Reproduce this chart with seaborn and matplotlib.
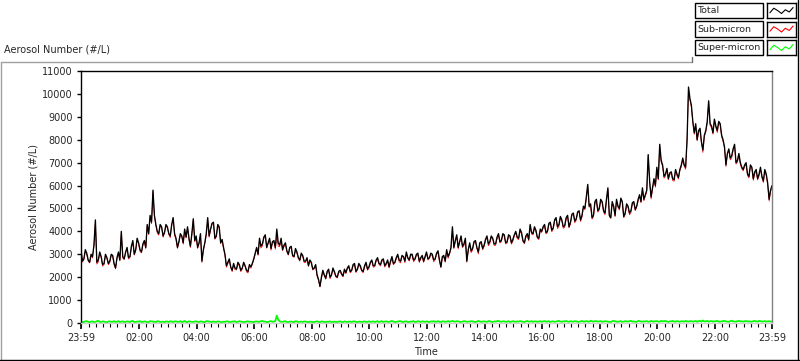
import numpy as np
import pandas as pd
import matplotlib
matplotlib.use("Agg")
import matplotlib.pyplot as plt
from matplotlib.lines import Line2D
from matplotlib.ticker import FixedLocator
import seaborn as sns

# ---------------------------------------------------------------------------
# Data. Samples every 6 min from 23:59 ("total"),
# plus the in-between samples 3 min later ("total_mid").
# ---------------------------------------------------------------------------

total = [
    3200, 2800, 3050, 2650, 2900, 4500, 2750, 2900, 2600, 2850,
    2700, 2950, 2400, 3100, 4000, 2800, 3300, 2900, 3600, 3200,
    3500, 3100, 3600, 4300, 4700, 5800, 4300, 3900, 4200, 3950,
    4200, 3800, 4600, 3700, 3550, 3800, 4100, 4200, 3350, 4550,
    3800, 3500, 2700, 3500, 4600, 4100, 4400, 3800, 4200, 3650,
    3000, 2650, 2450, 2600, 2350, 2550, 2400, 2500, 2250, 2450,
    2800, 3300, 3700, 3450, 3850, 3500, 3250, 3600, 4100, 3400,
    3200, 3500, 3000, 3350, 2900, 3100, 2750, 2950, 2700, 2500,
    2650, 2400, 2100, 1600, 2300, 1950, 2350, 2100, 2250, 2000,
    2300, 2050, 2200, 2500, 2300, 2600, 2350, 2500, 2250, 2650,
    2450, 2750, 2500, 2850, 2550, 2800, 2600, 2450, 2900, 2650,
    3000, 2700, 2900, 3100, 2750, 3000, 2800, 3050, 2850, 2700,
    3100, 2850, 3000, 2800, 3150, 2450, 2950, 3200, 3050, 4200,
    3600, 3300, 3800, 3450, 2700, 3500, 3250, 3600, 3100, 3550,
    3400, 3800, 3550, 3700, 3450, 3900, 3600, 3850, 3550, 3800,
    3650, 4000, 3700, 3950, 3500, 3900, 4300, 3900, 4050, 3700,
    4000, 4300, 4000, 4400, 4150, 4600, 4300, 4500, 4250, 4700,
    4400, 4800, 4550, 4900, 4700, 5000, 6050, 5200, 4700, 5400,
    5000, 5300, 4800, 5900, 4600, 5100, 5400, 5000, 5300, 4800,
    5100, 4900, 5300, 5100, 5600, 5900, 5600, 7350, 5500, 6300,
    6800, 7800, 6900, 6500, 6300, 6600, 6250, 6500, 6700, 7200,
    6800, 10300, 9500, 8300, 8000, 8500, 7550, 8400, 9700, 8600,
    8900, 8400, 8700, 8000, 6900, 7600, 7300, 7800, 7100, 7000,
    6700, 7000, 6400, 6800, 6600, 6300, 6800, 6200, 6500, 5400,
    6000,
]

total_mid = [
    2700, 3200, 2750, 3000, 3400, 2650, 3100, 2550, 3000, 2600,
    3000, 2600, 2850, 2750, 2900, 3100, 2850, 3350, 3000, 3700,
    3200, 3450, 3300, 3900, 4400, 4700, 4000, 4300, 3800, 4300,
    3900, 4300, 3900, 3300, 3900, 3500, 3750, 3700, 3900, 3600,
    3300, 3900, 3200, 3900, 3800, 4350, 3700, 4300, 3500, 3300,
    2500, 2800, 2300, 2400, 2650, 2300, 2650, 2300, 2550, 2600,
    3050, 3000, 3350, 3750, 3300, 3700, 3550, 3300, 3500, 3700,
    3400, 3150, 3300, 2950, 3250, 2850, 3050, 2700, 2850, 2750,
    2350, 2550, 1900, 2000, 2100, 2250, 2000, 2400, 2050, 2250,
    2150, 2350, 2400, 2250, 2550, 2250, 2600, 2300, 2500, 2350,
    2650, 2500, 2750, 2600, 2750, 2500, 2750, 2700, 2600, 2850,
    2750, 2950, 2700, 2850, 3000, 2750, 3000, 2700, 2950, 2900,
    2800, 3050, 2750, 3050, 2750, 2900, 2700, 2900, 3300, 3300,
    3850, 3550, 3350, 3700, 3200, 3150, 3550, 3300, 3500, 3250,
    3650, 3450, 3800, 3450, 3750, 3550, 3900, 3500, 3850, 3500,
    3850, 3750, 4100, 3600, 3800, 3650, 3950, 4200, 3750, 4100,
    4200, 3950, 4350, 4050, 4500, 4200, 4650, 4200, 4600, 4200,
    4750, 4450, 4850, 4500, 5100, 5500, 5100, 4600, 5300, 4900,
    5400, 4900, 5400, 4700, 5300, 4700, 5100, 5450, 4650, 5200,
    4800, 5250, 4950, 5400, 5300, 5400, 5800, 6200, 5900, 6000,
    6300, 7100, 6400, 6750, 6550, 6300, 6700, 6350, 6900, 6900,
    8000, 9800, 8800, 8700, 8400, 7900, 8200, 8800, 8700, 8300,
    8600, 8800, 8200, 7700, 7400, 7200, 7600, 7000, 7400, 6800,
    6900, 6500, 6900, 6300, 6700, 6500, 6400, 6700, 6100, 5800,
]

super_micron = [
    60, 40, 80, 30, 70, 50, 90, 40, 60, 30,
    70, 50, 40, 80, 60, 30, 70, 40, 90, 50,
    60, 40, 70, 30, 80, 60, 40, 70, 50, 30,
    60, 80, 40, 70, 50, 30, 90, 40, 60, 50,
    70, 40, 60, 30, 80, 50, 70, 40, 60, 30,
    50, 70, 40, 60, 30, 80, 50, 40, 70, 60,
    40, 70, 50, 90, 60, 40, 80, 60, 320, 70,
    50, 80, 40, 60, 30, 70, 50, 40, 60, 30,
    50, 40, 70, 30, 60, 40, 50, 30, 60, 40,
    70, 30, 50, 60, 40, 70, 30, 50, 60, 40,
    70, 50, 40, 80, 60, 40, 70, 50, 90, 40,
    60, 80, 40, 70, 50, 60, 40, 80, 50, 60,
    70, 40, 60, 50, 80, 40, 70, 60, 50, 90,
    60, 70, 40, 80, 50, 60, 70, 40, 90, 50,
    70, 50, 80, 40, 60, 90, 50, 70, 60, 40,
    80, 50, 60, 70, 40, 90, 60, 50, 70, 60,
    50, 80, 60, 40, 70, 60, 90, 50, 70, 60,
    80, 60, 70, 50, 90, 60, 70, 100, 60, 80,
    70, 50, 80, 60, 40, 90, 60, 70, 50, 80,
    60, 90, 70, 50, 80, 60, 70, 50, 90, 60,
    80, 60, 70, 90, 50, 70, 60, 80, 50, 70,
    90, 60, 80, 70, 50, 90, 110, 70, 60, 80,
    70, 90, 60, 80, 70, 50, 100, 60, 80, 70,
    60, 80, 70, 50, 90, 60, 80, 70, 60, 80,
    70,
]

super_micron_mid = [
    40, 70, 50, 60, 30, 80, 50, 70, 40, 60,
    50, 80, 60, 40, 70, 50, 60, 80, 40, 60,
    80, 50, 60, 40, 70, 50, 80, 40, 60, 70,
    40, 60, 70, 50, 80, 60, 40, 70, 50, 60,
    50, 70, 40, 80, 60, 40, 50, 70, 40, 60,
    70, 40, 60, 80, 50, 60, 40, 70, 50, 40,
    60, 50, 80, 60, 40, 70, 50, 90, 150, 50,
    70, 40, 60, 50, 80, 40, 60, 70, 50, 60,
    40, 60, 50, 70, 40, 60, 70, 50, 40, 60,
    50, 70, 40, 60, 70, 50, 60, 40, 70, 50,
    50, 70, 60, 40, 80, 60, 50, 70, 60, 50,
    80, 50, 70, 40, 60, 80, 50, 60, 70, 50,
    50, 70, 80, 60, 50, 70, 50, 80, 70, 60,
    80, 50, 60, 70, 60, 80, 50, 60, 70, 60,
    60, 80, 50, 70, 80, 60, 70, 50, 80, 60,
    60, 70, 80, 50, 70, 60, 80, 70, 50, 80,
    70, 60, 80, 70, 50, 80, 60, 70, 90, 50,
    60, 80, 50, 70, 60, 80, 50, 70, 80, 60,
    80, 60, 70, 50, 80, 70, 50, 80, 60, 70,
    80, 60, 50, 90, 60, 70, 80, 60, 70, 80,
    60, 90, 80, 60, 70, 90, 60, 70, 80, 60,
    70, 80, 60, 90, 80, 60, 70, 90, 80, 60,
    80, 60, 70, 90, 60, 80, 70, 60, 90, 70,
    80, 70, 60, 80, 70, 90, 60, 80, 70, 60,
]

series_names = ["Total", "Sub-micron", "Super-micron"]
series_colors = {"Total": "#000000", "Sub-micron": "#ff0000",
                 "Super-micron": "#00ff00"}

tick_labels = ["23:59", "02:00", "04:00", "06:00", "08:00", "10:00",
               "12:00", "14:00", "16:00", "18:00", "20:00", "22:00", "23:59"]
major_minutes = [0, 121, 241, 361, 481, 601, 721, 841, 961, 1081,
                 1201, 1321, 1440]
y_ticks = list(range(0, 11001, 1000))

# small zig-zag drawn in the legend swatches
glyph = [0.35, 0.65, 0.5, 0.3, 0.55, 0.4, 0.7]

# ---------------------------------------------------------------------------
# Assemble one long table
# ---------------------------------------------------------------------------

grid = pd.DataFrame({"minute": np.arange(0, 1441, 6),
                     "Total": total, "Super-micron": super_micron})
mids = pd.DataFrame({"minute": np.arange(3, 1440, 6),
                     "Total": total_mid, "Super-micron": super_micron_mid})
df = pd.concat([grid, mids]).sort_values("minute").reset_index(drop=True)
df["Sub-micron"] = df["Total"] - df["Super-micron"]
long = df.melt(id_vars="minute", var_name="series", value_name="value")

# ---------------------------------------------------------------------------
# Figure
# ---------------------------------------------------------------------------

sns.set_style("white")
plt.rcParams["font.family"] = ["DejaVu Sans"]
FS = 7

W, H = 800, 361
fig = plt.figure(figsize=(W / 100, H / 100), dpi=100)
ax = fig.add_axes([81 / W, 1 - 323 / H, 691 / W, 252 / H])

line_w = {"Super-micron": 1.3, "Sub-micron": 0.5, "Total": 0.95}
for name in ["Super-micron", "Sub-micron", "Total"]:
    sns.lineplot(data=long[long["series"] == name], x="minute", y="value",
                 ax=ax, color=series_colors[name], linewidth=line_w[name],
                 legend=False)

ax.set_xlim(0, 1440)
ax.set_ylim(0, 11000)
ax.set_xlabel("")
ax.set_ylabel("")

ax.set_yticks(y_ticks)
ax.set_yticklabels([str(v) for v in y_ticks], fontsize=FS)
ax.set_xticks(major_minutes)
ax.set_xticklabels(tick_labels, fontsize=FS)
ax.xaxis.set_minor_locator(FixedLocator(list(range(1, 1440, 15))))
ax.tick_params(axis="y", direction="out", length=3, width=1, pad=3,
               left=True, color="black")
ax.tick_params(axis="x", which="major", direction="out", length=4, width=1.2,
               pad=3, bottom=True, color="black")
ax.tick_params(axis="x", which="minor", direction="out", length=3, width=0.8,
               bottom=True, color="black")

for side, col in [("left", "black"), ("top", "black"),
                  ("right", "#808080"), ("bottom", "#d0d0d0")]:
    ax.spines[side].set_visible(True)
    ax.spines[side].set_color(col)
    ax.spines[side].set_linewidth(1)

fig.text(33 / W, 1 - 197 / H, "Aerosol Number (#/L)", rotation=90,
         ha="center", va="center", fontsize=FS)
fig.text(426 / W, 1 - 352 / H, "Time", ha="center", va="center", fontsize=FS)
fig.text(4 / W, 1 - 50 / H, "Aerosol Number (#/L)", ha="left", va="center",
         fontsize=FS)


# panel frame (sunken look)
def fline(xs, ys, color, lw=1):
    fig.add_artist(Line2D([x / W for x in xs], [1 - y / H for y in ys],
                          color=color, linewidth=lw))


fline([0.5, 692], [61.5, 61.5], "#a0a0a0")
fline([692, 692], [57, 61.5], "#707070")
fline([0.5, 0.5], [61.5, 360], "#a0a0a0")
fline([0, 800], [359.5, 359.5], "#000000")
fline([798, 798], [0, 360], "#000000")

# legend: label boxes + swatch boxes
rows = [(3, 18), (21.5, 36.5), (40, 55)]
for name, (y0, y1) in zip(series_names, rows):
    fig.patches.append(plt.Rectangle((695 / W, 1 - y1 / H), 68 / W,
                                     (y1 - y0) / H, transform=fig.transFigure,
                                     fill=False, edgecolor="black",
                                     linewidth=1))
    fig.text(697 / W, 1 - (y0 + y1) / 2 / H, name, ha="left", va="center",
             fontsize=6.8)
    sw = fig.add_axes([767 / W, 1 - y1 / H, 29 / W, (y1 - y0) / H])
    sw.plot(np.linspace(0.1, 0.9, len(glyph)), glyph,
            color=series_colors[name], linewidth=0.8)
    sw.set_xlim(0, 1)
    sw.set_ylim(0, 1)
    sw.set_xticks([])
    sw.set_yticks([])
    for s in sw.spines.values():
        s.set_color("black")
        s.set_linewidth(1)

fig.savefig("out.png", dpi=100)
